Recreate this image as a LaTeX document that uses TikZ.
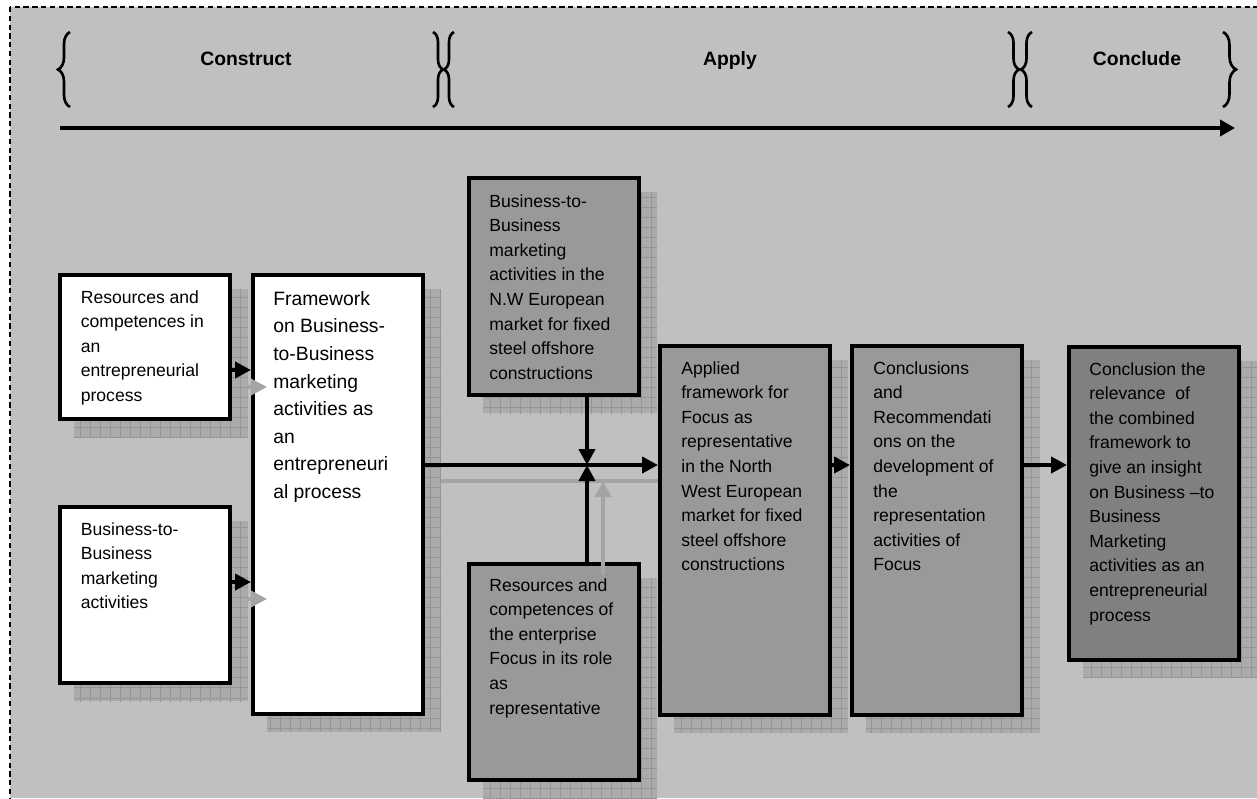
\documentclass[tikz,border=0pt]{standalone}
\usepackage{fontspec}
\setmainfont{Liberation Sans}
\definecolor{panelgray}{HTML}{C0C0C0}
\definecolor{boxgray}{HTML}{999999}
\definecolor{boxdark}{HTML}{808080}
\definecolor{shadegray}{HTML}{ABABAB}
\definecolor{shadeline}{HTML}{959595}
\definecolor{ghostgray}{HTML}{A4A4A4}
\usetikzlibrary{arrows.meta,positioning,calc,decorations.pathreplacing,patterns.meta}
\pgfdeclarelayer{back}
\pgfdeclarelayer{shade}
\pgfsetlayers{back,shade,main}

\tikzset{
  box/.style={draw, line width=2.3pt, anchor=north west, inner sep=0pt, minimum width=3.4cm},
  txt/.style={inner sep=0pt, align=left, anchor=north west, font=\fontsize{10}{14}\selectfont},
  phase/.style={anchor=base, font=\fontsize{11}{13}\selectfont\bfseries},
  phasebrace/.style={decorate, decoration={brace, amplitude=#1}, line width=1.5pt},
  conn/.style={line width=2.3pt, -{Triangle[length=0.32cm,width=0.32cm]}},
  ghost/.style={ghostgray, line width=2pt, -{Triangle[length=0.32cm,width=0.32cm]}},
  shadefill/.style={fill=shadegray,
    postaction={pattern={Hatch[angle=0,distance=5.7pt,line width=0.4pt]}, pattern color=shadeline}},
}

\begin{document}
\begin{tikzpicture}[x=0.02cm, y=-0.02cm]
  \useasboundingbox (0,0) rectangle (1257,798);

  % panel
  \begin{pgfonlayer}{back}
    \fill[panelgray] (10,7) rectangle (1257,798);
    \draw[line width=0.8pt, dash pattern=on 3pt off 2pt] (10,7) rectangle (1270,812);
  \end{pgfonlayer}

  % phases
  \node[phase] (construct) at (246,65) {Construct};
  \node[phase] (apply) at (730,65) {Apply};
  \node[phase] (conclude) at (1137,65) {Conclude};
  \draw[phasebrace=0.24cm] (70,107) -- (70,32);
  \draw[phasebrace=0.2cm] (433,32) -- (433,107);
  \draw[phasebrace=0.2cm] (454,107) -- (454,32);
  \draw[phasebrace=0.22cm] (1008,32) -- (1008,107);
  \draw[phasebrace=0.22cm] (1032,107) -- (1032,32);
  \draw[phasebrace=0.26cm] (1223,32) -- (1223,107);

  \coordinate (tl-a) at (60,128);
  \coordinate (tl-b) at (1235,128);
  \draw[line width=2.3pt, -{Triangle[length=0.3cm,width=0.32cm]}] (tl-a) -- (tl-b);

  % boxes
  \node[box, fill=white, minimum height=2.88cm] (ra) at (58,273) {};
  \node[box, fill=white, minimum height=3.52cm] (rb) at (58,505) {};
  \node[box, fill=white, minimum height=8.78cm] (fw) at (251,273) {};
  \node[box, fill=boxgray, minimum height=4.34cm] (nw) at (467,176) {};
  \node[box, fill=boxgray, minimum height=4.32cm] (rc) at (467,562) {};
  \node[box, fill=boxgray, minimum height=7.38cm] (app) at (658,344) {};
  \node[box, fill=boxgray, minimum height=7.38cm] (con) at (850,344) {};
  \node[box, fill=boxdark, minimum height=6.26cm] (fin) at (1067,345) {};

  \begin{pgfonlayer}{shade}
    \foreach \b in {ra,rb,fw,nw,rc,app,con,fin}
      \fill[shadefill] ($(\b.north west)+(16,16)$) rectangle ($(\b.south east)+(16,16)$);
  \end{pgfonlayer}

  % texts
  \node[txt, below right=0.34cm and 0.45cm of ra.north west] (ra-text)
    {Resources and\\competences in\\an\\entrepreneurial\\process};
  \node[txt, below right=0.34cm and 0.45cm of rb.north west] (rb-text)
    {Business-to-\\Business\\marketing\\activities};
  \node[txt, font=\fontsize{11}{15.7}\selectfont, below right=0.36cm and 0.44cm of fw.north west] (fw-text)
    {Framework\\on Business-\\to-Business\\marketing\\activities as\\an\\entrepreneuri\\al process};
  \node[txt, below right=0.36cm and 0.44cm of nw.north west] (nw-text)
    {Business-to-\\Business\\marketing\\activities in the\\N.W European\\market for fixed\\steel offshore\\constructions};
  \node[txt, below right=0.32cm and 0.44cm of rc.north west] (rc-text)
    {Resources and\\competences of\\the enterprise\\Focus in its role\\as\\representative};
  \node[txt, below right=0.34cm and 0.46cm of app.north west] (app-text)
    {Applied\\framework for\\Focus as\\representative\\in the North\\West European\\market for fixed\\steel offshore\\constructions};
  \node[txt, below right=0.34cm and 0.46cm of con.north west] (con-text)
    {Conclusions\\and\\Recommendati\\ons on the\\development of\\the\\representation\\activities of\\Focus};
  \node[txt, below right=0.34cm and 0.44cm of fin.north west] (fin-text)
    {Conclusion the\\relevance\ \ of\\the combined\\framework to\\give an insight\\on Business –to\\Business\\Marketing\\activities as an\\entrepreneurial\\process};

  % connectors
  \coordinate (j) at (587,465);
  \coordinate (ra-out) at ([yshift=-0.46cm]ra.east);
  \coordinate (rb-out) at ([yshift=0.26cm]rb.east);

  \draw[ghost] ($(ra-out)+(16,17)$) -- ($(ra-out -| fw.west)+(16,17)$);
  \draw[ghost] ($(rb-out)+(16,17)$) -- ($(rb-out -| fw.west)+(16,17)$);
  \draw[ghost, -] ($(fw.east |- j)+(16,16)$) -- ($(app.west |- j)+(0,16)$);
  \draw[ghost] ($(rc.north -| j)+(16,13)$) -- ($(j)+(16,16)$);

  \draw[conn] (ra-out) -- (ra-out -| fw.west);
  \draw[conn] (rb-out) -- (rb-out -| fw.west);
  \draw[conn] (fw.east |- j) -- (app.west |- j);
  \draw[conn] (nw.south -| j) -- (j);
  \draw[conn] (rc.north -| j) -- (j);
  \draw[conn] (app.east |- j) -- (con.west |- j);
  \draw[conn] (con.east |- j) -- (fin.west |- j);
\end{tikzpicture}
\end{document}
